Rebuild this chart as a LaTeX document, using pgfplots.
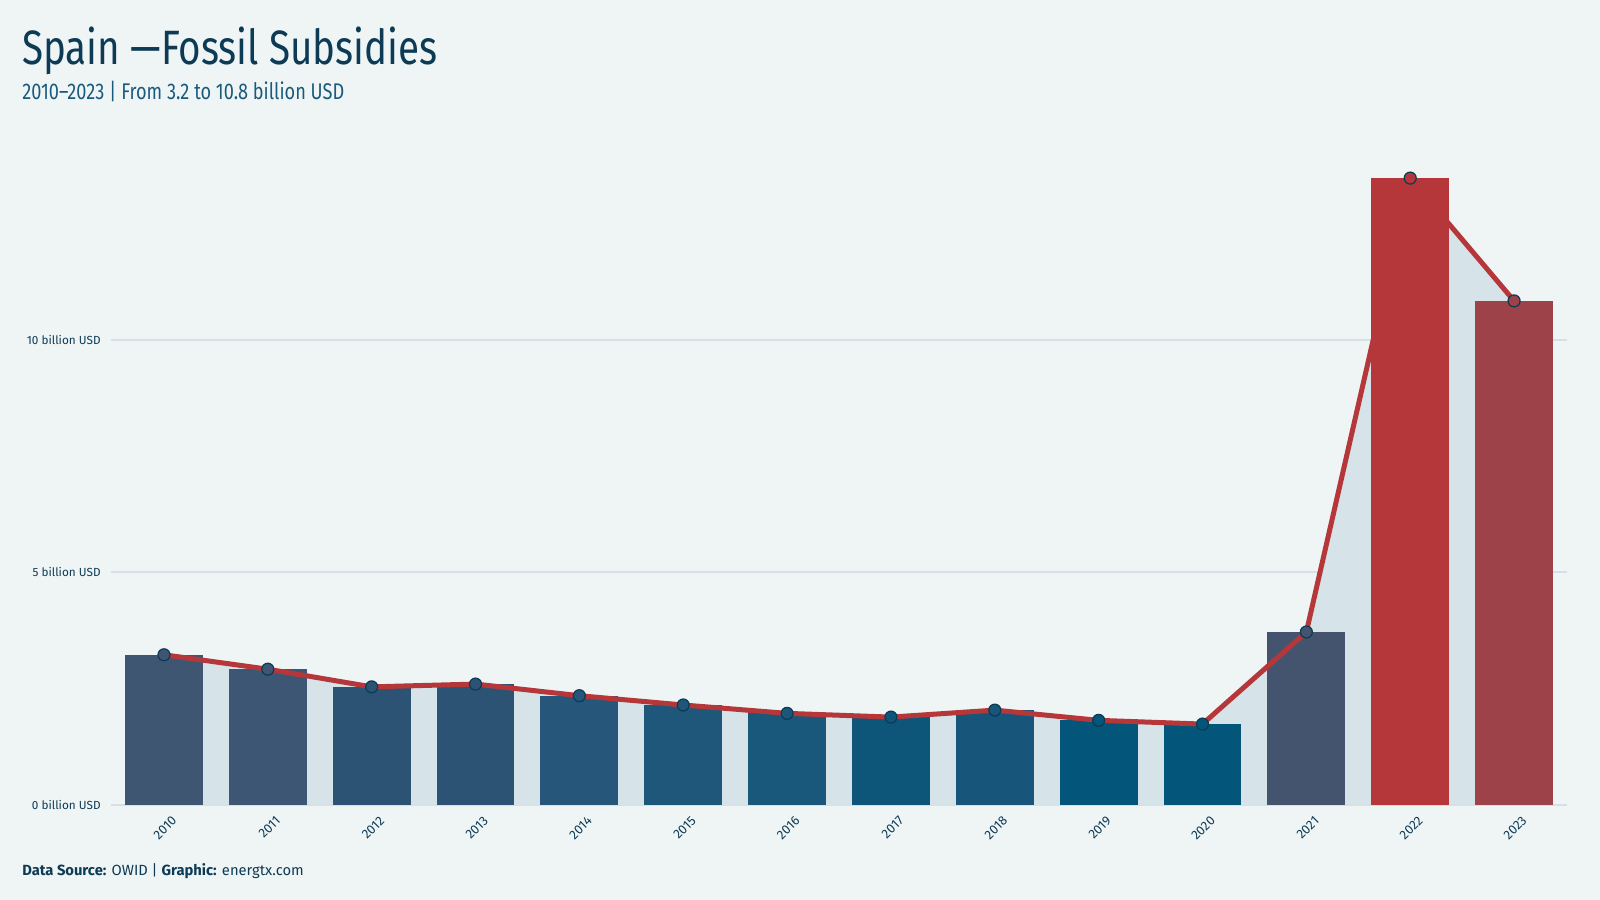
\documentclass[border=0pt]{standalone}
\usepackage{pgfplots}
\pgfplotsset{compat=1.18}
\usepackage{fontspec}
\setmainfont{Fira Sans}
\newfontfamily\titlefont[FakeStretch=0.8]{Fira Sans}

\definecolor{bgcol}{HTML}{EFF5F5}
\definecolor{gridcol}{HTML}{D5E1E6}
\definecolor{areacol}{HTML}{D6E3E8}
\definecolor{linered}{HTML}{B5373A}
\definecolor{markdraw}{HTML}{0C3A55}
\definecolor{navy}{HTML}{0D3A55}
\definecolor{subblue}{HTML}{1A5A7D}
\definecolor{c0}{HTML}{3F5672}
\definecolor{c1}{HTML}{3D5674}
\definecolor{c2}{HTML}{2C5374}
\definecolor{c3}{HTML}{2C5374}
\definecolor{c4}{HTML}{26567A}
\definecolor{c5}{HTML}{1F577A}
\definecolor{c6}{HTML}{1A587B}
\definecolor{c7}{HTML}{0E557A}
\definecolor{c8}{HTML}{18557A}
\definecolor{c9}{HTML}{035679}
\definecolor{c10}{HTML}{035679}
\definecolor{c11}{HTML}{45546E}
\definecolor{c12}{HTML}{B5373A}
\definecolor{c13}{HTML}{9E4249}

% Fossil fuel subsidies, Spain, billion USD (2010 = 0)
\pgfplotstableread{
x y
0 3.23
1 2.92
2 2.54
3 2.60
4 2.35
5 2.15
6 1.97
7 1.89
8 2.04
9 1.82
10 1.74
11 3.72
12 13.48
13 10.84
}\subsidies

\newcommand{\yearbar}[3]{\addplot[ybar, bar width=0.75, bar shift=0pt, fill=#3, draw=none] coordinates {(#1,#2)};}
\newcommand{\yearmark}[3]{\addplot[only marks, mark=*, mark size=3bp, mark options={fill=#3, draw=markdraw, line width=0.6bp}] coordinates {(#1,#2)};}

\begin{document}
\begin{tikzpicture}[x=1bp,y=1bp]
\fill[bgcol] (0,0) rectangle (800,450);

\node[anchor=base west, inner sep=0pt, text=navy, font=\titlefont\fontsize{24.2}{28}\selectfont] at (11,417.5) {Spain —Fossil Subsidies};
\node[anchor=base west, inner sep=0pt, text=subblue, font=\titlefont\fontsize{11.4}{13}\selectfont] at (11,400) {2010–2023 | From 3.2 to 10.8 billion USD};
\node[anchor=base west, inner sep=0pt, text=navy, font=\fontsize{7.4}{9}\selectfont] at (11,12) {\textbf{Data Source:} OWID | \textbf{Graphic:} energtx.com};

\begin{axis}[
  at={(55.5bp,47.5bp)}, anchor=south west,
  scale only axis, width=728bp, height=323.2bp,
  xmin=-0.51, xmax=13.51, ymin=0, ymax=13.9,
  axis line style={draw=none},
  major tick length=0pt,
  xtick={0,...,13},
  xticklabels={2010,2011,2012,2013,2014,2015,2016,2017,2018,2019,2020,2021,2022,2023},
  xticklabel style={rotate=45, anchor=east, inner sep=0pt, yshift=-8.5bp, xshift=-1bp, text=navy, font=\fontsize{6.5}{7}\selectfont},
  ytick={0,5,10},
  yticklabels={0 billion USD,5 billion USD,10 billion USD},
  yticklabel style={anchor=east, inner sep=0pt, xshift=-5bp, text=navy, font=\fontsize{5.9}{7}\selectfont},
  ymajorgrids, grid style={gridcol, line width=1bp},
  clip=false,
]
\addplot[fill=areacol, draw=none] table {\subsidies} \closedcycle;
\yearbar{0}{3.23}{c0}
\yearbar{1}{2.92}{c1}
\yearbar{2}{2.54}{c2}
\yearbar{3}{2.60}{c3}
\yearbar{4}{2.35}{c4}
\yearbar{5}{2.15}{c5}
\yearbar{6}{1.97}{c6}
\yearbar{7}{1.89}{c7}
\yearbar{8}{2.04}{c8}
\yearbar{9}{1.82}{c9}
\yearbar{10}{1.74}{c10}
\yearbar{11}{3.72}{c11}
\yearbar{13}{10.84}{c13}
\addplot[linered, line width=2.5bp, line join=round] table {\subsidies};
\yearbar{12}{13.48}{c12}
\yearmark{0}{3.23}{c0}
\yearmark{1}{2.92}{c1}
\yearmark{2}{2.54}{c2}
\yearmark{3}{2.60}{c3}
\yearmark{4}{2.35}{c4}
\yearmark{5}{2.15}{c5}
\yearmark{6}{1.97}{c6}
\yearmark{7}{1.89}{c7}
\yearmark{8}{2.04}{c8}
\yearmark{9}{1.82}{c9}
\yearmark{10}{1.74}{c10}
\yearmark{11}{3.72}{c11}
\yearmark{12}{13.48}{c12}
\yearmark{13}{10.84}{c13}
\end{axis}
\end{tikzpicture}
\end{document}
